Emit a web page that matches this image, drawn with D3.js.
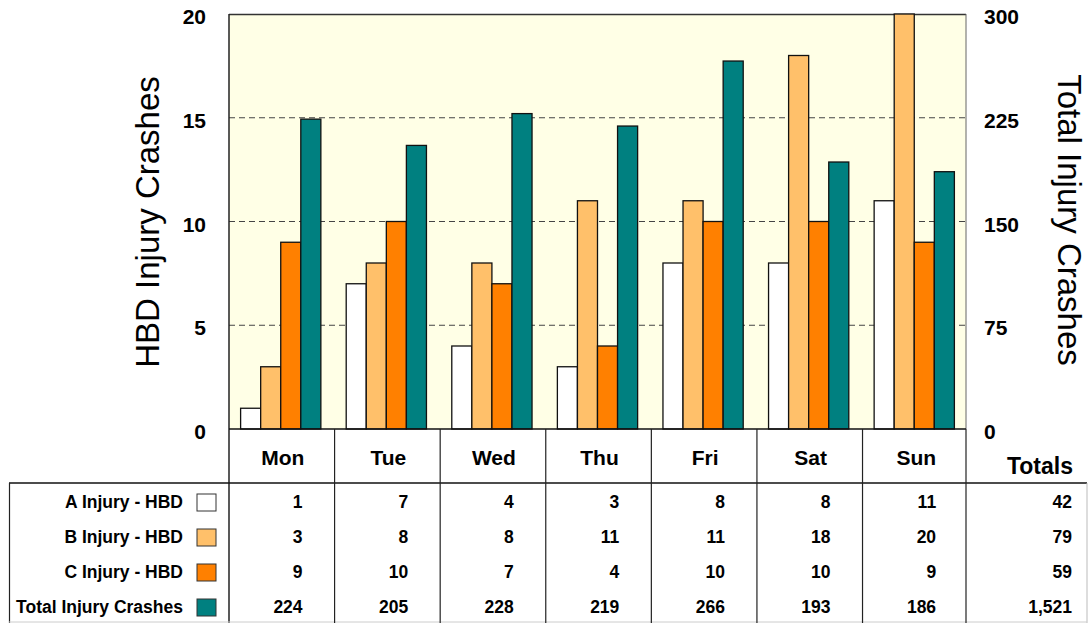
<!DOCTYPE html>
<html>
<head>
<meta charset="utf-8">
<script src="https://cdn.jsdelivr.net/npm/d3@7"></script>
<style>
  body { margin: 0; background: #fff; }
  text { font-family: "Liberation Sans", Arial, sans-serif; }
</style>
</head>
<body>
<div id="chart"></div>
<script>
// data
var days = ["Mon", "Tue", "Wed", "Thu", "Fri", "Sat", "Sun"];
var seriesNames = ["A Injury - HBD", "B Injury - HBD", "C Injury - HBD", "Total Injury Crashes"];
var injuryA = [1, 7, 4, 3, 8, 8, 11];
var injuryB = [3, 8, 8, 11, 11, 18, 20];
var injuryC = [9, 10, 7, 4, 10, 10, 9];
var totalCrashes = [224, 205, 228, 219, 266, 193, 186];
var rowTotals = ["42", "79", "59", "1,521"];
var leftTicks = [0, 5, 10, 15, 20];
var rightTicks = [0, 75, 150, 225, 300];
var colors = ["#ffffff", "#ffc06a", "#ff8000", "#008080"];

var svgWidth = 1090;
var svgHeight = 623;
var plot = { left: 229, right: 966, top: 14, bottom: 429 };

var svg = d3.select("#chart")
  .append("svg")
  .attr("width", svgWidth)
  .attr("height", svgHeight);

var x = d3.scaleBand()
  .domain(days)
  .range([plot.left, plot.right])
  .paddingInner(0.24)
  .paddingOuter(0.11);

var xInner = d3.scaleBand()
  .domain(d3.range(4))
  .range([0, x.bandwidth()]);

var yLeft = d3.scaleLinear().domain([0, 20]).range([plot.bottom, plot.top]);
var yRight = d3.scaleLinear().domain([0, 300]).range([plot.bottom, plot.top]);

// plot background
svg.append("rect")
  .attr("x", plot.left).attr("y", plot.top)
  .attr("width", plot.right - plot.left)
  .attr("height", plot.bottom - plot.top)
  .attr("fill", "#ffffe6");

// dashed grid
svg.append("g")
  .selectAll("line")
  .data(leftTicks.filter(d => d > 0 && d < 20))
  .enter()
  .append("line")
  .attr("x1", plot.left).attr("x2", plot.right)
  .attr("y1", d => yLeft(d)).attr("y2", d => yLeft(d))
  .attr("stroke", "#444")
  .attr("stroke-width", 1)
  .attr("stroke-dasharray", "6,4");

// plot frame
svg.append("line")
  .attr("x1", plot.left).attr("x2", plot.right)
  .attr("y1", plot.top + 0.5).attr("y2", plot.top + 0.5)
  .attr("stroke", "#333").attr("stroke-width", 1.5);
svg.append("line")
  .attr("x1", plot.right).attr("x2", plot.right)
  .attr("y1", plot.top).attr("y2", plot.bottom)
  .attr("stroke", "#666").attr("stroke-width", 1);

// bars
var rows = days.map(function(d, i) {
  return { day: d, values: [injuryA[i], injuryB[i], injuryC[i], totalCrashes[i]] };
});

var groups = svg.selectAll(null)
  .data(rows)
  .enter()
  .append("g")
  .attr("transform", d => `translate(${x(d.day)},0)`);

groups.selectAll("rect")
  .data(d => d.values.map((v, k) => ({ k: k, v: v })))
  .enter()
  .append("rect")
  .attr("x", d => xInner(d.k))
  .attr("width", xInner.bandwidth())
  .attr("y", d => d.k === 3 ? yRight(d.v) : yLeft(d.v))
  .attr("height", d => plot.bottom - (d.k === 3 ? yRight(d.v) : yLeft(d.v)))
  .attr("fill", d => colors[d.k])
  .attr("stroke", "#111")
  .attr("stroke-width", 1.3);

// left axis line
svg.append("line")
  .attr("x1", plot.left).attr("x2", plot.left)
  .attr("y1", plot.top).attr("y2", 623)
  .attr("stroke", "#222").attr("stroke-width", 1.5);

// tick labels
svg.append("g")
  .selectAll("text")
  .data(leftTicks)
  .enter()
  .append("text")
  .attr("x", 206)
  .attr("y", d => yLeft(d) + 10)
  .attr("text-anchor", "end")
  .attr("font-size", 21)
  .attr("font-weight", "bold")
  .text(d => d);

svg.append("g")
  .selectAll("text")
  .data(rightTicks)
  .enter()
  .append("text")
  .attr("x", 984)
  .attr("y", d => yRight(d) + 10)
  .attr("font-size", 21)
  .attr("font-weight", "bold")
  .text(d => d);

// axis titles
svg.append("text")
  .attr("transform", "translate(159,222) rotate(-90)")
  .attr("text-anchor", "middle")
  .attr("font-size", 33)
  .text("HBD Injury Crashes");

svg.append("text")
  .attr("transform", "translate(1058,220) rotate(90)")
  .attr("text-anchor", "middle")
  .attr("font-size", 33)
  .text("Total Injury Crashes");

// data table
var step = x.step();
var colEdges = days.map((d, i) => plot.left + i * step);
var tableTop = 483;
var rowY = [502, 537, 572, 607];

var table = svg.append("g");

table.append("line")
  .attr("x1", plot.left).attr("x2", plot.right)
  .attr("y1", plot.bottom).attr("y2", plot.bottom)
  .attr("stroke", "#111").attr("stroke-width", 1.5);
table.append("line")
  .attr("x1", 9).attr("x2", 1087)
  .attr("y1", tableTop).attr("y2", tableTop)
  .attr("stroke", "#111").attr("stroke-width", 1.5);
table.append("line")
  .attr("x1", 9.5).attr("x2", 9.5)
  .attr("y1", tableTop).attr("y2", 623)
  .attr("stroke", "#222").attr("stroke-width", 1.2);
table.append("line")
  .attr("x1", 1087).attr("x2", 1087)
  .attr("y1", tableTop).attr("y2", 623)
  .attr("stroke", "#bbb").attr("stroke-width", 1);
table.append("line")
  .attr("x1", 9).attr("x2", 1087)
  .attr("y1", 622).attr("y2", 622)
  .attr("stroke", "#ccc").attr("stroke-width", 1);

table.selectAll(".col")
  .data(colEdges.slice(1).concat([plot.right]))
  .enter()
  .append("line")
  .attr("x1", d => d).attr("x2", d => d)
  .attr("y1", plot.bottom).attr("y2", 623)
  .attr("stroke", "#222").attr("stroke-width", 1.2);

// day labels
table.selectAll(".day")
  .data(days)
  .enter()
  .append("text")
  .attr("x", d => x(d) + x.bandwidth() / 2 + 2)
  .attr("y", 465)
  .attr("text-anchor", "middle")
  .attr("font-size", 21)
  .attr("font-weight", "bold")
  .text(d => d);

table.append("text")
  .attr("x", 1073)
  .attr("y", 474)
  .attr("text-anchor", "end")
  .attr("font-size", 23)
  .attr("font-weight", "bold")
  .text("Totals");

// legend labels and swatches
var seriesData = [injuryA, injuryB, injuryC, totalCrashes];

seriesNames.forEach(function(name, r) {
  table.append("text")
    .attr("x", 183)
    .attr("y", rowY[r] + 6)
    .attr("text-anchor", "end")
    .attr("font-size", 17.5)
    .attr("font-weight", "bold")
    .text(name);

  table.append("rect")
    .attr("x", 197).attr("y", rowY[r] - 8)
    .attr("width", 19).attr("height", 17)
    .attr("fill", colors[r])
    .attr("stroke", "#333").attr("stroke-width", 1);

  table.selectAll(null)
    .data(seriesData[r])
    .enter()
    .append("text")
    .attr("x", (d, i) => colEdges[i] + step - 32)
    .attr("y", rowY[r] + 6)
    .attr("text-anchor", "end")
    .attr("font-size", 17.5)
    .attr("font-weight", "bold")
    .text(d => d);

  table.append("text")
    .attr("x", 1072)
    .attr("y", rowY[r] + 6)
    .attr("text-anchor", "end")
    .attr("font-size", 17.5)
    .attr("font-weight", "bold")
    .text(rowTotals[r]);
});
</script>
</body>
</html>
